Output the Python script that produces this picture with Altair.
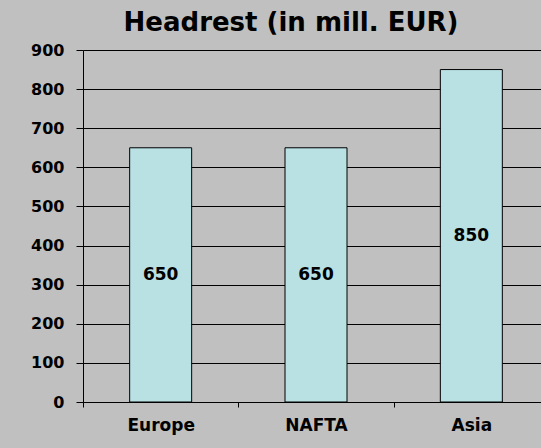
import altair as alt
import pandas as pd

regions = ["Europe", "NAFTA", "Asia"]
values = [650, 650, 850]
y_ticks = [0, 100, 200, 300, 400, 500, 600, 700, 800, 900]
title_text = "Headrest (in mill. EUR)"

df = pd.DataFrame({"region": regions, "value": values})

FONT = "DejaVu Sans"

x_axis = alt.Axis(
    labelAngle=0,
    tickBand="extent",
    grid=False,
    domain=True,
    domainColor="black",
    tickColor="black",
    tickSize=5,
    labelPadding=10,
    labelFont=FONT,
    labelFontSize=17,
    labelFontWeight="bold",
    labelColor="black",
)
x_scale = alt.Scale(range=[0, 466], paddingInner=0, paddingOuter=0)

y_axis = alt.Axis(
    values=y_ticks,
    tickCount=10,
    labelOverlap=False,
    grid=True,
    gridColor="black",
    gridOpacity=1,
    gridWidth=1,
    domain=True,
    domainColor="black",
    tickColor="black",
    tickSize=7,
    labelPadding=12,
    labelFont=FONT,
    labelFontSize=16,
    labelFontWeight="bold",
    labelColor="black",
)
y_scale = alt.Scale(domain=[0, 900], nice=False)

bars = alt.Chart(df).mark_bar(
    width=62, color="#b9e0e3", stroke="black", strokeWidth=1
).encode(
    x=alt.X("region:N", sort=regions, title=None, scale=x_scale, axis=x_axis),
    y=alt.Y("value:Q", scale=y_scale, title=None, axis=y_axis),
)

labels = alt.Chart(df).transform_calculate(
    mid="datum.value / 2"
).mark_text(
    font=FONT, fontSize=17, fontWeight="bold", color="black", baseline="middle"
).encode(
    x=alt.X("region:N", sort=regions, title=None, scale=x_scale, axis=x_axis),
    y=alt.Y("mid:Q", scale=y_scale, title=None, axis=y_axis),
    text=alt.Text("value:Q"),
)

chart = alt.layer(bars, labels).properties(
    width=458,
    height=352,
    autosize=alt.AutoSizeParams(type="none"),
    padding={"left": 83, "top": 50, "right": 0, "bottom": 46},
    background="#c0c0c0",
    title=alt.TitleParams(
        title_text,
        font=FONT,
        fontSize=26,
        fontWeight="bold",
        color="black",
        anchor="middle",
        offset=6,
        dx=-21,
    ),
).configure_view(stroke=None)

chart.save("out.html", embed_options={"renderer": "svg", "actions": False})
